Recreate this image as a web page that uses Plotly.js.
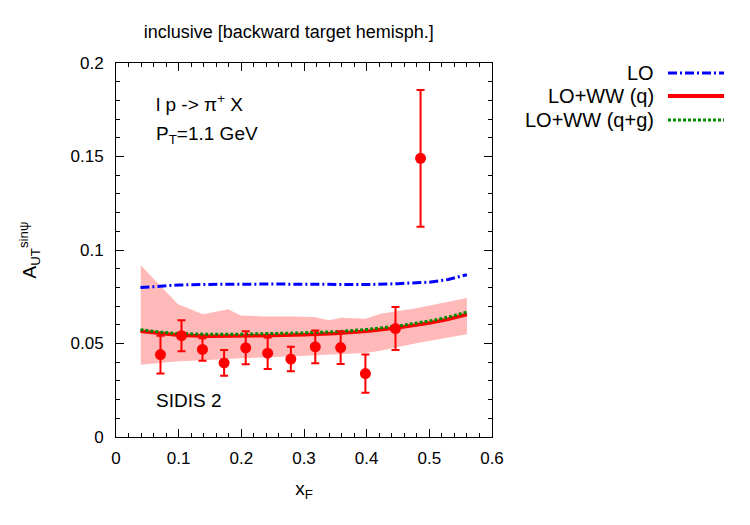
<!DOCTYPE html>
<html>
<head>
<meta charset="utf-8">
<script src="https://cdn.plot.ly/plotly-3.0.1.min.js"></script>
<style>html,body{margin:0;padding:0;background:#fff;}#chart{width:750px;height:525px;}</style>
</head>
<body>
<div id="chart"></div>
<script>
// Theory curves
const curveX = [0.039, 0.07, 0.1, 0.15, 0.2, 0.25, 0.3, 0.35, 0.4, 0.45, 0.5, 0.53, 0.56];
const loY    = [0.0799, 0.0808, 0.0813, 0.0816, 0.0818, 0.0818, 0.0817, 0.0815, 0.0815, 0.082, 0.0828, 0.0842, 0.0868];
const wwqY   = [0.0565, 0.0552, 0.0544, 0.0539, 0.054, 0.0543, 0.0547, 0.0553, 0.0565, 0.0584, 0.061, 0.063, 0.0655];
const wwqgY  = [0.0574, 0.0561, 0.0553, 0.0549, 0.055, 0.0553, 0.0557, 0.0563, 0.0575, 0.0594, 0.062, 0.0641, 0.0668];
// Uncertainty band
const bandX     = [0.0395, 0.099, 0.139, 0.179, 0.199, 0.2375, 0.28, 0.317, 0.339, 0.36, 0.398, 0.424, 0.477, 0.56];
const bandLower = [0.0387, 0.0405, 0.041, 0.0419, 0.0421, 0.0425, 0.0432, 0.0436, 0.0439, 0.0442, 0.0449, 0.0462, 0.050, 0.0549];
const bandUpper = [0.0918, 0.071, 0.0656, 0.0683, 0.065, 0.0645, 0.0645, 0.0642, 0.0624, 0.0638, 0.0633, 0.066, 0.0687, 0.0743];
// Data points
const dataX   = [0.071, 0.1045, 0.138, 0.1725, 0.207, 0.242, 0.279, 0.318, 0.3585, 0.398, 0.446, 0.486];
const dataY   = [0.0441, 0.0542, 0.0468, 0.0396, 0.0477, 0.0448, 0.0417, 0.0482, 0.0478, 0.0339, 0.058, 0.149];
const dataErr = [0.0101, 0.0083, 0.006, 0.0069, 0.0088, 0.0084, 0.0066, 0.0087, 0.0088, 0.0102, 0.0115, 0.0365];
// Text
const legendNames = ["LO", "LO+WW (q)", "LO+WW (q+g)"];
const xTicks = [0, 0.1, 0.2, 0.3, 0.4, 0.5, 0.6];
const xTickText = ["0", "0.1", "0.2", "0.3", "0.4", "0.5", "0.6"];
const yTicks = [0, 0.05, 0.1, 0.15, 0.2];
const yTickText = ["0", "0.05", "0.1", "0.15", "0.2"];

const FONT = "Liberation Sans, Arial, Helvetica, sans-serif";
const blue = "#0000ff", red = "#ff0000", green = "#008a00";
const loDash = "9px,3px,2px,3px", dotDash = "3px,2px";

const traces = [
  {x: bandX, y: bandLower, mode: "lines", line: {width: 0, color: "rgba(0,0,0,0)"}, showlegend: false, hoverinfo: "skip"},
  {x: bandX, y: bandUpper, mode: "lines", line: {width: 0, color: "rgba(0,0,0,0)"}, fill: "tonexty", fillcolor: "rgba(255,80,80,0.4)", showlegend: false, hoverinfo: "skip"},
  {x: curveX, y: loY, mode: "lines", name: legendNames[0], line: {color: blue, width: 3, dash: loDash}, showlegend: false},
  {x: curveX, y: wwqY, mode: "lines", name: legendNames[1], line: {color: red, width: 3.5}, showlegend: false},
  {x: curveX, y: wwqgY, mode: "lines", name: legendNames[2], line: {color: green, width: 3, dash: dotDash}, showlegend: false},
  {x: dataX, y: dataY, mode: "markers", marker: {color: red, size: 11},
   error_y: {type: "data", array: dataErr, visible: true, color: red, thickness: 2, width: 4}, showlegend: false}
];

const L = 116, R = 492, T = 63, B = 437;
const px = v => (v - L) / (R - L);
const py = v => (B - v) / (B - T);

const annotations = [
  {text: "l p -> π<sup>+</sup> X", x: px(154), y: py(103), xref: "paper", yref: "paper", xanchor: "left", yanchor: "middle", showarrow: false, font: {family: FONT, size: 19, color: "#000"}},
  {text: "P<sub>T</sub>=1.1 GeV", x: px(154), y: py(135), xref: "paper", yref: "paper", xanchor: "left", yanchor: "middle", showarrow: false, font: {family: FONT, size: 19, color: "#000"}},
  {text: "SIDIS 2", x: px(154), y: py(400), xref: "paper", yref: "paper", xanchor: "left", yanchor: "middle", showarrow: false, font: {family: FONT, size: 19, color: "#000"}}
];
const legendRows = [73, 96, 120];
const legendStyles = [{color: blue, width: 3, dash: loDash}, {color: red, width: 4, dash: "solid"}, {color: green, width: 3, dash: dotDash}];
const shapes = [];
legendNames.forEach((n, i) => {
  annotations.push({text: n, x: px(656), y: py(legendRows[i]), xref: "paper", yref: "paper", xanchor: "right", yanchor: "middle", showarrow: false, font: {family: FONT, size: 20, color: "#000"}});
  shapes.push({type: "line", xref: "paper", yref: "paper", x0: px(668), x1: px(724), y0: py(legendRows[i]), y1: py(legendRows[i]), line: legendStyles[i]});
});

const axisCommon = {
  showgrid: false, zeroline: false, showline: true, linecolor: "#000", linewidth: 1, mirror: "allticks",
  ticks: "inside", ticklen: 8, tickcolor: "#000", tickwidth: 1,
  tickfont: {family: FONT, size: 17, color: "#000"}
};

const layout = {
  width: 750, height: 525,
  margin: {l: L, r: 750 - R, t: T, b: 525 - B, pad: 0},
  paper_bgcolor: "#fff", plot_bgcolor: "#fff",
  showlegend: false,
  title: {text: "inclusive [backward target hemisph.]", x: 0.385, xref: "container", xanchor: "center", y: 1 - 32 / 525, yref: "container", yanchor: "middle", font: {family: FONT, size: 18, color: "#000"}},
  xaxis: Object.assign({}, axisCommon, {range: [0, 0.6], tickvals: xTicks, ticktext: xTickText, ticklabelstandoff: 6,
    minor: {ticks: "inside", dtick: 0.02, ticklen: 4, tickcolor: "#000"},
    title: {text: "x<sub>F</sub>", font: {family: FONT, size: 19, color: "#000"}, standoff: 14}}),
  yaxis: Object.assign({}, axisCommon, {range: [0, 0.2], tickvals: yTicks, ticktext: yTickText, ticklabelstandoff: 8,
    minor: {ticks: "inside", dtick: 0.01, ticklen: 4, tickcolor: "#000"},
    title: {text: "A<sub>UT</sub><sup>sinψ</sup>", font: {family: FONT, size: 19, color: "#000"}, standoff: 28}}),
  annotations: annotations,
  shapes: shapes
};

Plotly.newPlot("chart", traces, layout, {displayModeBar: false, staticPlot: true});
</script>
</body>
</html>
